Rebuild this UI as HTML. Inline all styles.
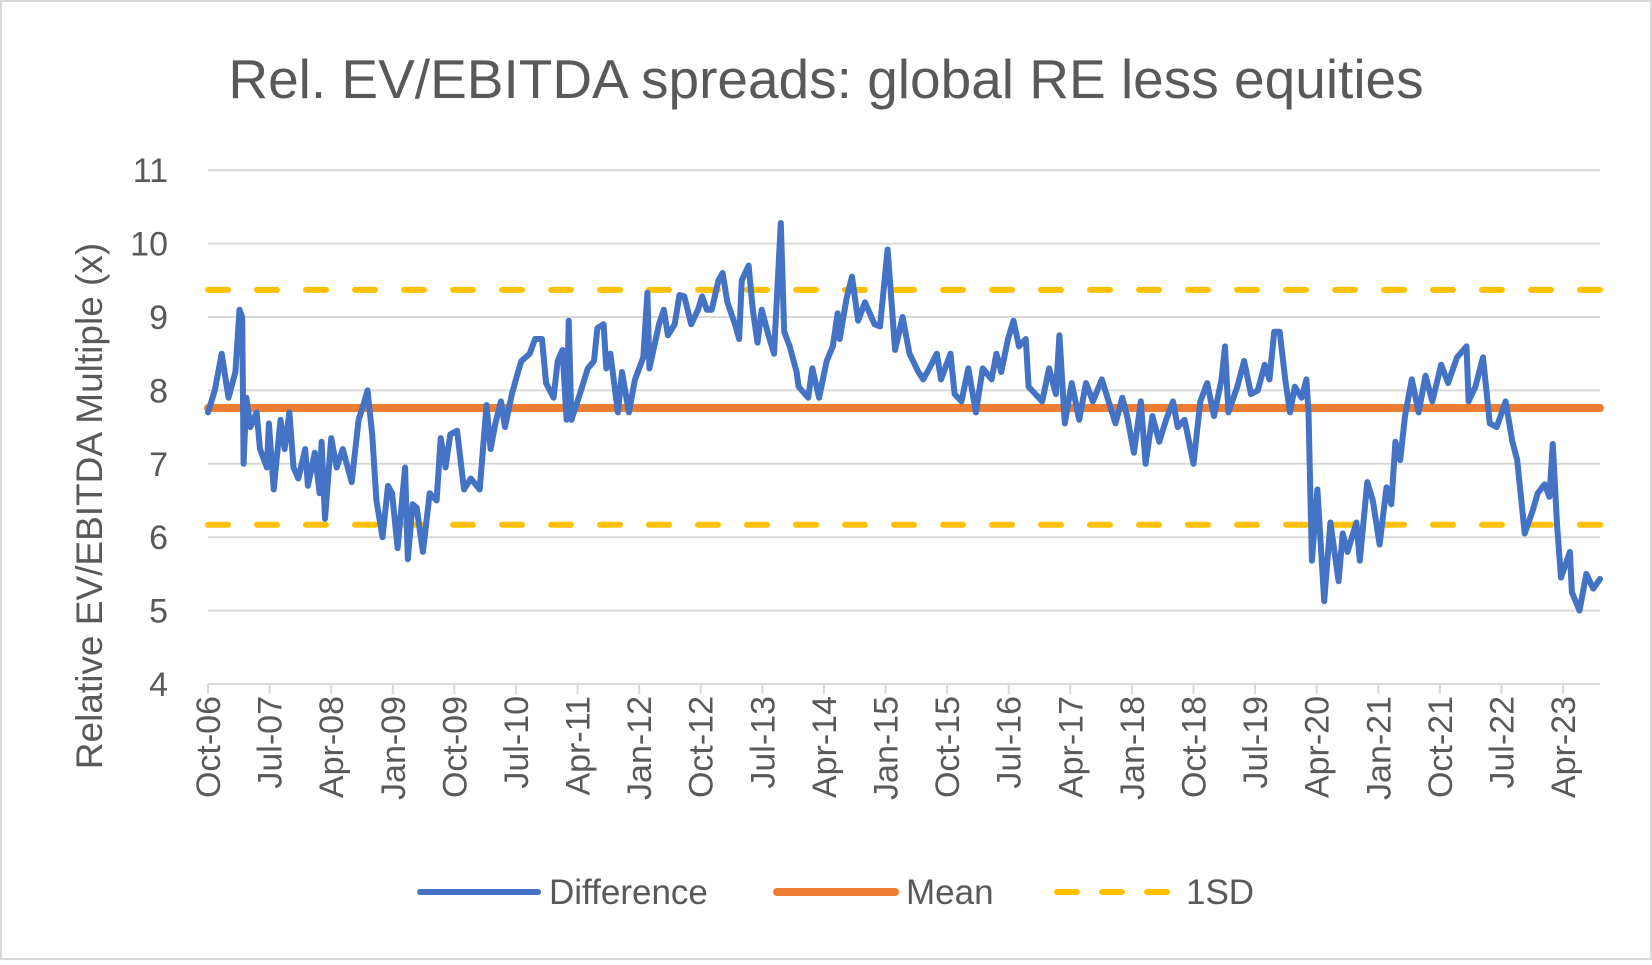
<!DOCTYPE html>
<html><head><meta charset="utf-8"><style>
html,body{margin:0;padding:0;background:#fff;}
body{width:1652px;height:960px;overflow:hidden;font-family:"Liberation Sans",sans-serif;}
</style></head><body>
<svg id="chart" width="1652" height="960" xmlns="http://www.w3.org/2000/svg" style="font-family:'Liberation Sans',sans-serif">
<rect x="1" y="1" width="1650" height="958" fill="#fff" stroke="#d9d9d9" stroke-width="2"/>
<text x="826" y="98" text-anchor="middle" font-size="55" fill="#595959">Rel. EV/EBITDA spreads: global RE less equities</text>
<text transform="translate(102,506) rotate(-90)" text-anchor="middle" font-size="37" fill="#595959">Relative EV/EBITDA Multiple (x)</text>
<g id="grid"></g><g id="yt"></g><g id="xt"></g><g id="series"></g>
<g>
<line x1="420" y1="892" x2="538" y2="892" stroke="#4472c4" stroke-width="6" stroke-linecap="round"/>
<text x="549" y="904" font-size="35" fill="#595959">Difference</text>
<line x1="777" y1="892" x2="895" y2="892" stroke="#ed7d31" stroke-width="8" stroke-linecap="round"/>
<text x="906" y="904" font-size="35" fill="#595959">Mean</text>
<line x1="1057" y1="892" x2="1175" y2="892" stroke="#ffc000" stroke-width="6" stroke-linecap="round" stroke-dasharray="20 25"/>
<text x="1186" y="904" font-size="35" fill="#595959">1SD</text>
</g>
</svg>
<script>
const diffPoints=[[0,7.7],[1,8.0],[2,8.5],[3,7.9],[4,8.25],[4.6,9.1],[5,9.0],[5.2,7.0],[5.6,7.9],[6.2,7.5],[7.1,7.7],[7.6,7.2],[8.6,6.95],[8.9,7.55],[9.6,6.65],[10.6,7.6],[11.2,7.2],[11.9,7.7],[12.5,6.95],[13.2,6.8],[14.2,7.2],[14.6,6.7],[15.6,7.15],[16.3,6.6],[16.6,7.3],[17.1,6.25],[18,7.35],[18.8,6.95],[19.7,7.2],[21,6.75],[22,7.6],[22.7,7.8],[23.3,8.0],[24,7.4],[24.6,6.5],[25.5,6.0],[26.3,6.7],[26.9,6.6],[27.7,5.85],[28.8,6.95],[29.2,5.7],[29.9,6.45],[30.5,6.4],[31.4,5.8],[32.4,6.6],[33.4,6.5],[34,7.35],[34.7,6.95],[35.4,7.4],[36.4,7.45],[37.4,6.65],[38.4,6.8],[39.7,6.65],[40.7,7.8],[41.3,7.2],[42,7.55],[42.8,7.85],[43.4,7.5],[44.4,7.95],[45.3,8.25],[45.8,8.4],[47,8.5],[47.8,8.7],[48.8,8.7],[49.4,8.1],[50.5,7.9],[51.1,8.4],[51.8,8.55],[52.4,7.6],[52.7,8.95],[53.1,7.6],[54.5,8.0],[55.5,8.3],[56.4,8.4],[56.9,8.85],[57.8,8.9],[58.2,8.3],[58.8,8.5],[59.9,7.7],[60.5,8.25],[61.5,7.7],[62.4,8.15],[63.6,8.45],[64.2,9.33],[64.5,8.3],[65.9,8.9],[66.6,9.1],[67.2,8.75],[68.2,8.9],[68.9,9.3],[69.6,9.28],[70.6,8.9],[71.6,9.1],[72.2,9.28],[72.9,9.1],[73.6,9.1],[74.6,9.5],[75.2,9.6],[75.9,9.2],[77,8.9],[77.6,8.7],[78,9.5],[79,9.7],[79.6,9.1],[80.3,8.65],[80.9,9.1],[81.9,8.75],[82.7,8.5],[83.7,10.28],[84.2,8.8],[85,8.6],[86,8.25],[86.3,8.05],[87.7,7.9],[88.3,8.3],[89.3,7.9],[90.4,8.4],[91.3,8.6],[92,9.05],[92.3,8.7],[93.3,9.25],[94.1,9.55],[95,8.95],[96,9.2],[97.4,8.9],[98.2,8.87],[99.3,9.92],[100.4,8.55],[101.5,9.0],[102.5,8.5],[103.8,8.25],[104.5,8.15],[105.4,8.3],[106.5,8.5],[107.1,8.15],[108.5,8.5],[109.1,7.95],[110.1,7.85],[111.1,8.3],[112.2,7.7],[113.2,8.3],[114.5,8.15],[115.2,8.5],[115.9,8.25],[116.9,8.7],[117.7,8.95],[118.5,8.6],[119.5,8.7],[119.9,8.05],[120.9,7.95],[121.9,7.85],[122.9,8.3],[123.9,7.95],[124.4,8.75],[125.2,7.55],[126.2,8.1],[127.3,7.6],[128.3,8.1],[129.3,7.85],[130.6,8.15],[131.6,7.85],[132.6,7.55],[133.6,7.9],[134.3,7.65],[135.3,7.15],[136.3,7.85],[137,7.0],[138,7.65],[139,7.3],[140,7.6],[141,7.85],[141.7,7.5],[142.7,7.6],[144,7.0],[145,7.85],[146,8.1],[147,7.65],[148.1,8.15],[148.6,8.6],[149.1,7.7],[150.4,8.05],[151.4,8.4],[152.4,7.95],[153.4,8.0],[154.4,8.35],[155.1,8.15],[155.8,8.8],[156.6,8.8],[157.4,8.15],[158.1,7.7],[158.8,8.05],[159.8,7.9],[160.5,8.15],[160.8,7.7],[161.3,5.68],[162.1,6.65],[163.1,5.13],[164,6.2],[165.2,5.4],[165.8,6.05],[166.5,5.8],[167.8,6.2],[168.3,5.68],[169.4,6.75],[170.2,6.5],[171.2,5.9],[172.2,6.68],[172.9,6.45],[173.5,7.3],[174.2,7.05],[174.9,7.65],[175.9,8.15],[176.9,7.7],[177.9,8.2],[178.9,7.85],[180.2,8.35],[181.2,8.1],[182.5,8.45],[183.9,8.6],[184.2,7.85],[185.2,8.05],[186.3,8.45],[187.3,7.55],[188.3,7.5],[189.6,7.85],[190.6,7.3],[191.3,7.05],[192.4,6.05],[193.6,6.37],[194.3,6.6],[195.3,6.72],[196,6.55],[196.5,7.27],[197.1,6.2],[197.7,5.45],[199,5.8],[199.3,5.25],[200.4,5.0],[201.4,5.5],[202.4,5.3],[203.4,5.43]];
const meanValue=[7.76];
const sdBands=[9.37,6.17];
const yTicks=[4,5,6,7,8,9,10,11];
const xTickLabels=["Oct-06","Jul-07","Apr-08","Jan-09","Oct-09","Jul-10","Apr-11","Jan-12","Oct-12","Jul-13","Apr-14","Jan-15","Oct-15","Jul-16","Apr-17","Jan-18","Oct-18","Jul-19","Apr-20","Jan-21","Oct-21","Jul-22","Apr-23"];
const X0=208,X1=1600,MMAX=203.4,Y0=684,YU=73.4;
const xs=m=>X0+m*(X1-X0)/MMAX;
const ys=v=>Y0-(v-4)*YU;
const NS="http://www.w3.org/2000/svg";
function mk(tag,parent,attrs){const e=document.createElementNS(NS,tag);for(const k in attrs)e.setAttribute(k,attrs[k]);parent.appendChild(e);return e;}
const grid=document.getElementById('grid'),yt=document.getElementById('yt'),xt=document.getElementById('xt'),ser=document.getElementById('series');
yTicks.forEach(v=>{
  const l=mk('line',grid,{x1:X0,x2:X1,y1:ys(v),y2:ys(v),stroke:'#d9d9d9','stroke-width':2});
  
  
  const t=mk('text',yt,{x:168,y:ys(v)+12,'text-anchor':'end','font-size':34,fill:'#595959'});
  t.textContent=v;
  
  
});
xTickLabels.forEach((s,i)=>{
  const x=xs(i*9);
  const tk=mk('line',xt,{x1:x,x2:x,y1:Y0,y2:Y0+10,stroke:'#d9d9d9','stroke-width':2});
  
  
  const t=mk('text',xt,{transform:`translate(${x+12},${Y0+12}) rotate(-90)`,'text-anchor':'end','font-size':34,fill:'#595959'});
  t.textContent=s;
  
  
});
sdBands.forEach((v,i)=>{
  const l=mk('line',ser,{x1:X0,x2:X1,y1:ys(v),y2:ys(v),stroke:'#ffc000','stroke-width':6,'stroke-linecap':'round','stroke-dasharray':'20 29'});
  
  
});
const ml=mk('line',ser,{x1:X0,x2:X1,y1:ys(meanValue[0]),y2:ys(meanValue[0]),stroke:'#ed7d31','stroke-width':8,'stroke-linecap':'round'});


const pts=diffPoints.map(p=>xs(p[0]).toFixed(1)+','+ys(p[1]).toFixed(1)).join(' ');
const pl=mk('polyline',ser,{points:pts,fill:'none',stroke:'#4472c4','stroke-width':6,'stroke-linejoin':'round','stroke-linecap':'round'});


</script>
</body></html>
